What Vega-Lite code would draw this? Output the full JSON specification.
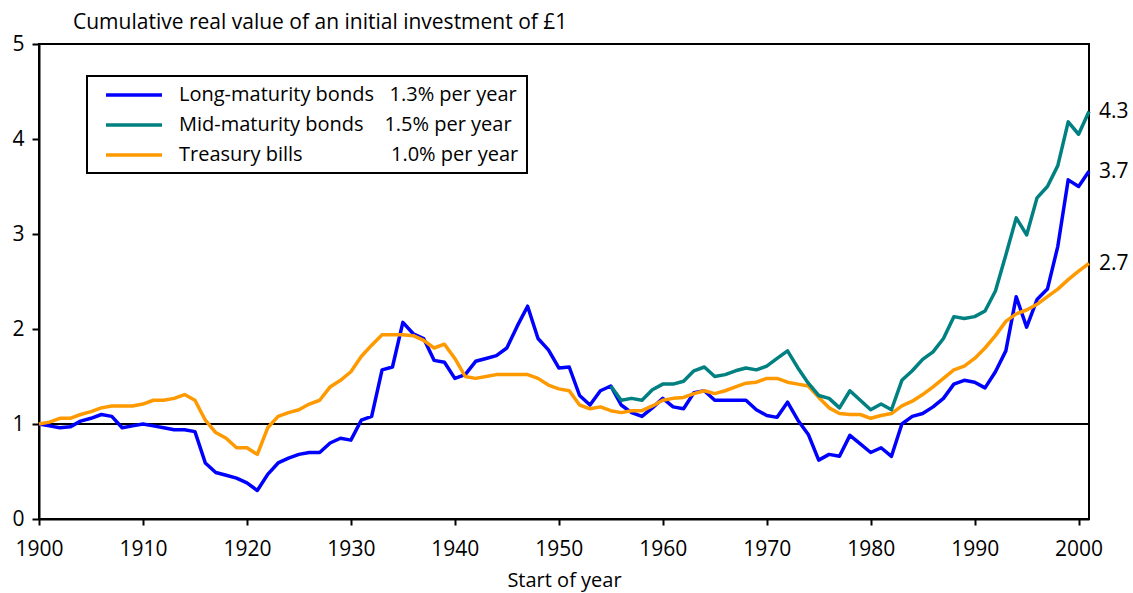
{
  "$schema": "https://vega.github.io/schema/vega-lite/v6.json",
  "width": 1050,
  "height": 475,
  "autosize": {"type": "none"},
  "padding": {"left": 39, "top": 44, "right": 44, "bottom": 74},
  "background": "white",
  "title": {"text": "Cumulative real value of an initial investment of £1", "anchor": "start", "frame": "group", "dx": 34, "dy": 7, "offset": 7, "fontSize": 21, "font": "Open Sans", "fontWeight": "normal", "color": "black"},
  "config": {
    "view": {"stroke": "black", "strokeWidth": 2},
    "font": "Open Sans",
    "axis": {"domainColor": "black", "domainWidth": 2, "tickColor": "black", "tickWidth": 2, "labelColor": "black", "labelFont": "Open Sans", "labelFontSize": 21, "grid": false, "titleFont": "Open Sans", "titleFontSize": 20, "titleFontWeight": "normal", "titleColor": "black", "labelFlush": false, "labelOverlap": false, "labelBound": false}
  },
  "data": {"values": [
    {"year": 1900, "long": 1.00, "bills": 1.00, "mid": null},
    {"year": 1901, "long": 0.98, "bills": 1.02, "mid": null},
    {"year": 1902, "long": 0.96, "bills": 1.06, "mid": null},
    {"year": 1903, "long": 0.97, "bills": 1.06, "mid": null},
    {"year": 1904, "long": 1.03, "bills": 1.10, "mid": null},
    {"year": 1905, "long": 1.06, "bills": 1.13, "mid": null},
    {"year": 1906, "long": 1.10, "bills": 1.17, "mid": null},
    {"year": 1907, "long": 1.08, "bills": 1.19, "mid": null},
    {"year": 1908, "long": 0.96, "bills": 1.19, "mid": null},
    {"year": 1909, "long": 0.98, "bills": 1.19, "mid": null},
    {"year": 1910, "long": 1.00, "bills": 1.21, "mid": null},
    {"year": 1911, "long": 0.98, "bills": 1.25, "mid": null},
    {"year": 1912, "long": 0.96, "bills": 1.25, "mid": null},
    {"year": 1913, "long": 0.94, "bills": 1.27, "mid": null},
    {"year": 1914, "long": 0.94, "bills": 1.31, "mid": null},
    {"year": 1915, "long": 0.92, "bills": 1.25, "mid": null},
    {"year": 1916, "long": 0.59, "bills": 1.04, "mid": null},
    {"year": 1917, "long": 0.49, "bills": 0.91, "mid": null},
    {"year": 1918, "long": 0.46, "bills": 0.85, "mid": null},
    {"year": 1919, "long": 0.43, "bills": 0.75, "mid": null},
    {"year": 1920, "long": 0.38, "bills": 0.75, "mid": null},
    {"year": 1921, "long": 0.30, "bills": 0.68, "mid": null},
    {"year": 1922, "long": 0.47, "bills": 0.96, "mid": null},
    {"year": 1923, "long": 0.59, "bills": 1.08, "mid": null},
    {"year": 1924, "long": 0.64, "bills": 1.12, "mid": null},
    {"year": 1925, "long": 0.68, "bills": 1.15, "mid": null},
    {"year": 1926, "long": 0.70, "bills": 1.21, "mid": null},
    {"year": 1927, "long": 0.70, "bills": 1.25, "mid": null},
    {"year": 1928, "long": 0.80, "bills": 1.39, "mid": null},
    {"year": 1929, "long": 0.85, "bills": 1.46, "mid": null},
    {"year": 1930, "long": 0.83, "bills": 1.55, "mid": null},
    {"year": 1931, "long": 1.04, "bills": 1.71, "mid": null},
    {"year": 1932, "long": 1.08, "bills": 1.83, "mid": null},
    {"year": 1933, "long": 1.57, "bills": 1.94, "mid": null},
    {"year": 1934, "long": 1.60, "bills": 1.94, "mid": null},
    {"year": 1935, "long": 2.07, "bills": 1.94, "mid": null},
    {"year": 1936, "long": 1.95, "bills": 1.93, "mid": null},
    {"year": 1937, "long": 1.90, "bills": 1.88, "mid": null},
    {"year": 1938, "long": 1.67, "bills": 1.80, "mid": null},
    {"year": 1939, "long": 1.65, "bills": 1.84, "mid": null},
    {"year": 1940, "long": 1.48, "bills": 1.69, "mid": null},
    {"year": 1941, "long": 1.52, "bills": 1.50, "mid": null},
    {"year": 1942, "long": 1.66, "bills": 1.48, "mid": null},
    {"year": 1943, "long": 1.69, "bills": 1.50, "mid": null},
    {"year": 1944, "long": 1.72, "bills": 1.52, "mid": null},
    {"year": 1945, "long": 1.80, "bills": 1.52, "mid": null},
    {"year": 1946, "long": 2.03, "bills": 1.52, "mid": null},
    {"year": 1947, "long": 2.24, "bills": 1.52, "mid": null},
    {"year": 1948, "long": 1.90, "bills": 1.48, "mid": null},
    {"year": 1949, "long": 1.78, "bills": 1.41, "mid": null},
    {"year": 1950, "long": 1.59, "bills": 1.37, "mid": null},
    {"year": 1951, "long": 1.60, "bills": 1.35, "mid": null},
    {"year": 1952, "long": 1.30, "bills": 1.20, "mid": null},
    {"year": 1953, "long": 1.20, "bills": 1.16, "mid": null},
    {"year": 1954, "long": 1.35, "bills": 1.18, "mid": null},
    {"year": 1955, "long": 1.40, "bills": 1.14, "mid": 1.40},
    {"year": 1956, "long": 1.20, "bills": 1.12, "mid": 1.25},
    {"year": 1957, "long": 1.12, "bills": 1.14, "mid": 1.27},
    {"year": 1958, "long": 1.08, "bills": 1.14, "mid": 1.25},
    {"year": 1959, "long": 1.17, "bills": 1.19, "mid": 1.36},
    {"year": 1960, "long": 1.27, "bills": 1.25, "mid": 1.42},
    {"year": 1961, "long": 1.18, "bills": 1.27, "mid": 1.42},
    {"year": 1962, "long": 1.16, "bills": 1.28, "mid": 1.45},
    {"year": 1963, "long": 1.33, "bills": 1.32, "mid": 1.56},
    {"year": 1964, "long": 1.35, "bills": 1.35, "mid": 1.60},
    {"year": 1965, "long": 1.25, "bills": 1.32, "mid": 1.50},
    {"year": 1966, "long": 1.25, "bills": 1.35, "mid": 1.52},
    {"year": 1967, "long": 1.25, "bills": 1.39, "mid": 1.56},
    {"year": 1968, "long": 1.25, "bills": 1.43, "mid": 1.59},
    {"year": 1969, "long": 1.15, "bills": 1.44, "mid": 1.57},
    {"year": 1970, "long": 1.09, "bills": 1.48, "mid": 1.61},
    {"year": 1971, "long": 1.07, "bills": 1.48, "mid": 1.69},
    {"year": 1972, "long": 1.23, "bills": 1.44, "mid": 1.77},
    {"year": 1973, "long": 1.04, "bills": 1.42, "mid": 1.59},
    {"year": 1974, "long": 0.89, "bills": 1.40, "mid": 1.43},
    {"year": 1975, "long": 0.62, "bills": 1.28, "mid": 1.30},
    {"year": 1976, "long": 0.68, "bills": 1.17, "mid": 1.27},
    {"year": 1977, "long": 0.66, "bills": 1.11, "mid": 1.17},
    {"year": 1978, "long": 0.88, "bills": 1.10, "mid": 1.35},
    {"year": 1979, "long": 0.79, "bills": 1.10, "mid": 1.25},
    {"year": 1980, "long": 0.70, "bills": 1.06, "mid": 1.15},
    {"year": 1981, "long": 0.75, "bills": 1.09, "mid": 1.21},
    {"year": 1982, "long": 0.66, "bills": 1.11, "mid": 1.15},
    {"year": 1983, "long": 1.00, "bills": 1.19, "mid": 1.46},
    {"year": 1984, "long": 1.08, "bills": 1.24, "mid": 1.56},
    {"year": 1985, "long": 1.11, "bills": 1.31, "mid": 1.68},
    {"year": 1986, "long": 1.18, "bills": 1.39, "mid": 1.76},
    {"year": 1987, "long": 1.27, "bills": 1.48, "mid": 1.90},
    {"year": 1988, "long": 1.42, "bills": 1.57, "mid": 2.13},
    {"year": 1989, "long": 1.46, "bills": 1.61, "mid": 2.11},
    {"year": 1990, "long": 1.44, "bills": 1.69, "mid": 2.13},
    {"year": 1991, "long": 1.38, "bills": 1.80, "mid": 2.19},
    {"year": 1992, "long": 1.55, "bills": 1.93, "mid": 2.40},
    {"year": 1993, "long": 1.77, "bills": 2.08, "mid": 2.78},
    {"year": 1994, "long": 2.34, "bills": 2.16, "mid": 3.17},
    {"year": 1995, "long": 2.02, "bills": 2.20, "mid": 2.99},
    {"year": 1996, "long": 2.31, "bills": 2.26, "mid": 3.38},
    {"year": 1997, "long": 2.42, "bills": 2.34, "mid": 3.50},
    {"year": 1998, "long": 2.87, "bills": 2.42, "mid": 3.72},
    {"year": 1999, "long": 3.57, "bills": 2.52, "mid": 4.18},
    {"year": 2000, "long": 3.50, "bills": 2.61, "mid": 4.05},
    {"year": 2001, "long": 3.66, "bills": 2.69, "mid": 4.29}
  ]},
  "transform": [
    {"fold": ["long", "mid", "bills"], "as": ["series", "value"]},
    {"filter": "isValid(datum.value)"}
  ],
  "layer": [
    {
      "mark": {"type": "rule", "color": "black", "strokeWidth": 1.5},
      "encoding": {"y": {"datum": 1, "type": "quantitative"}}
    },
    {
      "mark": {"type": "line", "strokeWidth": 3.5, "strokeJoin": "round"},
      "encoding": {
        "x": {"field": "year", "type": "quantitative", "scale": {"domain": [1900, 2001], "nice": false, "zero": false},
              "axis": {"values": [1900, 1910, 1920, 1930, 1940, 1950, 1960, 1970, 1980, 1990, 2000], "format": "d", "tickSize": 6, "labelPadding": 13, "title": "Start of year", "titlePadding": 11}},
        "y": {"field": "value", "type": "quantitative", "scale": {"domain": [0, 5], "nice": false},
              "axis": {"values": [0, 1, 2, 3, 4, 5], "format": "d", "tickSize": 7, "labelPadding": 8, "title": null}},
        "color": {"field": "series", "type": "nominal",
                  "scale": {"domain": ["long", "mid", "bills"], "range": ["#0000FF", "#008080", "#FF9900"]},
                  "legend": {"orient": "none", "legendX": 48, "legendY": 32, "title": null, "strokeColor": "black", "fillColor": "white", "padding": 8,
                             "symbolType": "M-3.11,0H3.11", "symbolSize": 324, "symbolStrokeWidth": 3.5, "symbolOffset": 28, "labelOffset": 34,
                             "labelFontSize": 20, "labelFont": "Open Sans", "labelColor": "black", "labelLimit": 800, "rowPadding": 9,
                             "encode": {"legend": {"update": {"strokeWidth": {"value": 2}}}},
                             "labelExpr": "datum.label == 'long' ? 'Long-maturity bonds\u00a0\u00a0\u00a01.3% per year\u00a0\u00a0\u00a0' : datum.label == 'mid' ? 'Mid-maturity bonds\u00a0\u00a0\u00a0\u00a01.5% per year\u00a0\u00a0\u00a0' : 'Treasury bills\u00a0\u00a0\u00a0\u00a0\u00a0\u00a0\u00a0\u00a0\u00a0\u00a0\u00a0\u00a0\u00a0\u00a0\u00a0\u00a0\u00a01.0% per year\u00a0\u00a0\u00a0'"}}
      }
    },
    {
      "transform": [{"filter": "datum.year == 2001"}],
      "mark": {"type": "text", "align": "left", "baseline": "middle", "dx": 10, "dy": 1, "fontSize": 21, "font": "Open Sans", "color": "black"},
      "encoding": {
        "x": {"field": "year", "type": "quantitative"},
        "y": {"field": "value", "type": "quantitative"},
        "text": {"field": "value", "type": "quantitative", "format": ".1f"}
      }
    }
  ]
}
